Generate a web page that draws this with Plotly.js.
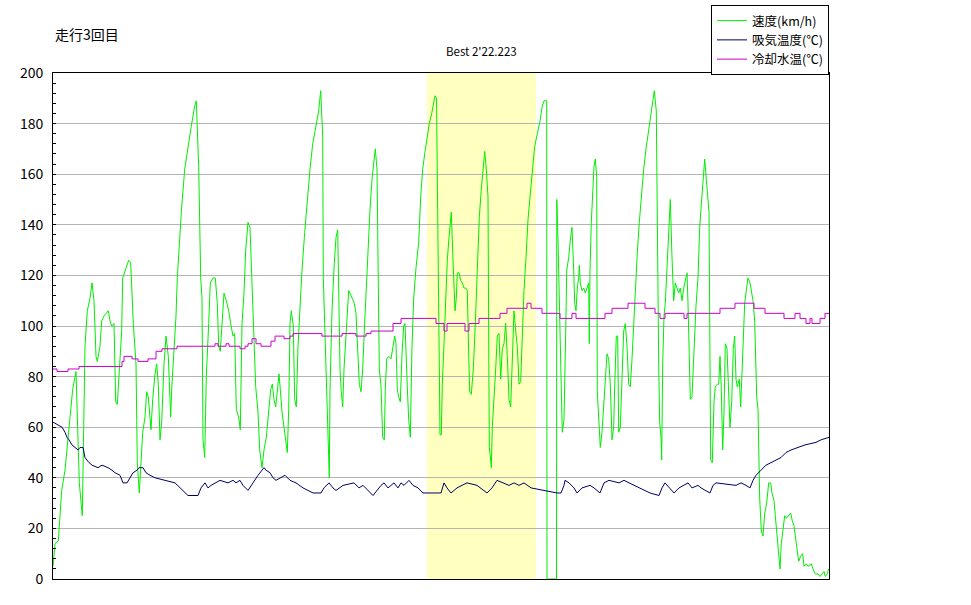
<!DOCTYPE html>
<html>
<head>
<meta charset="utf-8">
<script src="https://cdn.plot.ly/plotly-3.0.1.min.js"></script>
<style>html,body{margin:0;padding:0;background:#fff;}#chart{width:971px;height:605px;}</style>
</head>
<body>
<div id="chart"></div>
<script>
// ---- data (sample index along the run) ----
const speedT = [0,2,5.3,7,8.7,12,15.3,17,19.7,23,26.3,29.3,30,32,34.3,37,39,41,43,44.3,47,48.7,51,55.3,57,58.7,61,62.7,64.3,66,68.7,69.7,73,75.7,77.7,80.3,83,84.3,86.3,88,89.7,92,93.7,95.3,97,98,99.7,102,103.7,105.3,107,108.7,111,113,115.3,117.7,118.7,121,123,124.3,126.5,128.5,131.7,135,138.3,141.7,143.3,145.7,147.7,149,150,151.7,153.3,155.7,157.3,160,162.3,164.3,165.7,167.3,169.3,171,173.3,175.7,177.7,180,181.7,183.3,185.7,187.3,189,191,192.7,195,197,199,201,202.7,205,206.7,209,211,213.3,215.7,217.7,219.3,221,222.7,224.3,226,227.3,229,231,232.3,234.3,235.7,237,238.3,240.3,241.7,243.3,245,247,249,251.7,254.3,257,259.7,263,265.7,267.7,269.7,270.3,272,273,274.3,275.7,276.3,277,279,281.3,283,284.7,285.7,287,288.3,289.7,291,292.3,293.7,295.7,297,299,301.3,303,304.7,306.3,308,309.7,311.3,313,315,317,319,320.7,322.3,324,325,326.3,328,329.7,331.3,332.3,333.7,335.7,338,339.7,341.7,343,344.3,345.7,347.3,349,350.7,352,353,354.3,355.7,357.3,359,360.7,363,365.7,367.7,369.7,371.7,374,376.3,378.7,380.7,382,383.5,384.3,385,386,387,388.3,389.3,391,392.7,394.3,396,398.3,400,401,402,403.3,404.3,406,407.7,409.3,411,412.7,414.3,415.7,416.7,418.3,420.3,422.3,424.3,426.3,428.3,430.3,431.7,433.3,435,435.7,436.3,437.7,438.3,439.3,441,442.7,444.3,446,447.7,449.3,451,452.7,454.3,456,457.7,459.3,461,462.7,464.3,466,467.7,469.3,471,473,475,477,479.3,481.7,484.3,487,489.3,491,493.7,494,503.5,503.8,505,506,507,508.3,509.3,511,511.7,513,513.7,515.7,517.3,519,520.7,521.7,523,524.3,525.7,526.3,527.3,529,530.7,532.3,534,535.7,536.3,537,538.3,539.7,541,542.3,543.7,544.3,545.7,547.3,549,550.7,552.3,554,555.7,557.3,559,560.7,561.7,563.3,564.7,565.7,567.3,569,570.7,572.3,574,575.7,577.3,579,580.7,582.3,584.3,586.3,588.3,590.7,593,595,597.3,599,601.3,603.3,604,605,605.7,606.7,608,608.7,609.7,611,612.3,614,615.7,617.3,619,620.7,622.3,624,625.7,627.3,629,630.7,632.3,634,635,636.3,637.3,639,641,643,645,646.7,648.3,650,651.7,653.3,655,656,657,657.7,659.3,661,662.3,664.3,665.7,667,668.3,669.7,671,672.3,674,675.7,677,678.7,680.3,681.7,683,684.3,686.3,687.7,689,690,691.7,693.3,695,697,698.3,700,701.7,702.3,703.7,705,705.7,706.7,708.3,710,711.7,713.7,715.7,717.7,719,721,722.3,724,725.7,727,728.3,730,731.7,733.3,735.7,737.7,739.3,741,742.3,744.3,745.7,747.7,749.7,751,753.3,755,758.3,760,762.3,765,767,769,771,772.3,774.3,775.7];
const speedKmh = [5,14,15,26,35,43,56,62,75,82,38,25,44,92,106,111,117,110,88,86,92,102,104,106,102,100,101,70,69,81,98,119,123,126,125,101,85,46,34,44,58,64,74,72,64,59,71,81,85,77,55,62,85,96,88,64,75,89,104,119,135,146,162,171,179,187,189,163,119,111,55,48,80,101,117,119,119,109,92,90,101,113,110,106,101,96,97,67,64,59,101,113,130,141,139,114,96,76,66,51,44,51,56,67,75,77,71,68,75,81,75,66,60,55,50,67,101,106,100,71,68,92,109,122,137,151,162,172,180,185,193,175,119,96,83,59,48,40,75,106,125,135,138,119,83,74,68,83,92,100,114,113,111,109,105,92,77,74,83,98,114,133,146,158,166,170,162,122,83,76,56,55,75,87,88,87,91,96,93,75,72,70,89,100,101,88,76,63,56,92,111,123,133,151,162,168,174,180,184,189,191,190,154,117,92,57,57,77,93,111,126,135,145,126,114,106,111,121,121,118,117,115,115,114,89,74,73,83,101,125,143,154,164,169,162,151,96,52,47,44,60,70,83,96,97,79,91,93,101,88,71,68,89,106,98,92,77,78,96,114,127,142,151,162,171,176,181,187,189,189,0,0,150,134,110,98,75,58,63,85,104,122,127,134,139,122,109,106,115,119,124,117,114,115,113,115,117,93,122,141,155,163,166,159,74,62,52,58,70,80,89,87,77,55,60,76,96,96,58,60,81,98,101,92,77,76,87,101,115,129,141,151,162,170,176,183,188,193,185,147,119,85,62,56,47,85,104,109,123,139,150,127,110,117,115,113,115,110,115,118,121,109,89,71,72,94,108,119,139,148,159,166,158,147,145,85,47,46,70,76,77,77,88,75,51,66,93,91,72,60,70,91,96,79,76,79,68,83,98,109,114,119,117,114,110,102,88,72,67,43,32,19,17,26,30,38,38,34,31,25,17,8,4,14,19,25,24,25,26,23,21,17,11,7,9,10,5,6,5,6,4,2,2,1,2,3,1,2,4];

const intakeT = [0,4,9,12,14,16,19,22,25,27,30,32,34,36,39,45,49,55,59,62,67,70,74,77,80,84,86,90,93,97,102,122,127,130,135,145,148,152,155,158,162,167,175,180,183,187,190,195,200,205,211,213,217,220,223,227,232,237,243,250,255,260,268,271,276,280,283,290,301,306,310,315,320,328,331,335,338,341,345,348,351,356,360,365,370,388,391,394,398,404,409,414,424,431,434,439,444,456,461,466,471,478,504,508,511,512,516,521,524,529,537,541,547,551,556,566,571,576,581,586,597,606,609,612,617,621,626,631,635,639,645,648,657,660,663,683,688,693,697,700,703,708,713,718,723,728,733,738,745,752,763,768,776];
const intakeC = [62,61,60,58,56,55,53,52,51,52,52,48,47,46,45,44,45,44,43,42,41,38,38,40,42,43,44,44,42,41,40,38,36,35,33,33,36,38,36,37,38,39,38,39,38,39,37,35,38,41,44,43,42,40,39,40,41,39,38,36,35,34,34,36,38,36,35,37,38,36,37,35,33,37,38,36,37,38,36,38,37,39,37,36,34,34,38,36,34,36,37,38,37,35,34,36,39,37,38,37,38,36,34,34,37,39,38,36,34,36,37,36,34,38,39,38,39,38,37,36,34,33,36,38,36,34,36,37,38,36,37,36,34,37,38,37,38,37,36,39,41,43,45,46,47,48,50,51,52,53,54,55,56,57];

const coolantT = [0,4,15,26,69,71,79,85,95,103,109,124,162,165,173,176,187,192,195,199,203,208,218,222,231,237,240,269,289,303,313,318,340,348,383,391,394,412,416,426,447,454,474,478,489,507,519,523,552,559,575,592,602,607,612,631,634,667,682,701,712,731,742,747,753,757,759,767,772,776];
const coolantC = [83,82,83,84,86,88,87,86,87,90,91,92,93,92,93,92,91,92,93,95,93,92,94,96,95,96,97,96,97,96,97,98,101,103,101,98,101,98,101,103,105,107,109,107,105,103,105,103,105,107,109,107,105,103,105,103,105,107,109,107,105,103,105,103,101,103,101,103,105,105];

const bestLapStart = 374;
const bestLapEnd = 483;
const bestLapLabel = "Best 2'22.223";
const chartTitle = "走行3回目";
const seriesNames = ["速度(km/h)", "吸気温度(℃)", "冷却水温(℃)"];
const yTicks = [0,20,40,60,80,100,120,140,160,180,200];

const FONT = '"Noto Sans CJK JP", "Liberation Sans", sans-serif';

const traces = [
  {x: speedT, y: speedKmh, name: seriesNames[0], type: 'scatter', mode: 'lines',
   line: {color: '#00ee00', width: 1}},
  {x: intakeT, y: intakeC, name: seriesNames[1], type: 'scatter', mode: 'lines',
   line: {color: '#000066', width: 1}},
  {x: coolantT, y: coolantC, name: seriesNames[2], type: 'scatter', mode: 'lines',
   line: {color: '#cc00cc', width: 1, shape: 'hv'}}
];

const layout = {
  width: 971, height: 605,
  margin: {l: 53, r: 142, t: 73, b: 26, pad: 0, autoexpand: false},
  paper_bgcolor: '#ffffff', plot_bgcolor: '#ffffff',
  font: {family: FONT, size: 13, color: '#000'},
  title: {text: chartTitle, x: 55/971, xref: 'container', xanchor: 'left',
          y: 1 - 35/605, yref: 'container', yanchor: 'middle', automargin: false,
          font: {family: FONT, size: 14, color: '#000'}},
  showlegend: true,
  legend: {x: 1, xanchor: 'right', y: 1 + 68/506, yanchor: 'top',
           bgcolor: '#fff', bordercolor: '#000', borderwidth: 1,
           font: {family: FONT, size: 12.5, color: '#000'},
           tracegroupgap: 0, itemwidth: 30},
  xaxis: {range: [0, 776], showgrid: false, zeroline: false, showticklabels: false,
          ticks: '', showline: true, linecolor: '#000', linewidth: 1, mirror: true,
          fixedrange: true, automargin: false},
  yaxis: {range: [0, 200], tickvals: yTicks, ticktext: yTicks.map(String),
          showgrid: true, gridcolor: '#b4b4b4', gridwidth: 1, zeroline: false,
          ticks: 'inside', ticklen: 3, tickcolor: '#000',
          minor: {dtick: 4, ticks: 'inside', ticklen: 3, tickcolor: '#000', showgrid: false},
          showline: true, linecolor: '#000', linewidth: 1, mirror: true,
          tickfont: {family: FONT, size: 14, color: '#000'}, ticklabelstandoff: 6,
          fixedrange: true, automargin: false},
  shapes: [{type: 'rect', xref: 'x', yref: 'paper', x0: bestLapStart, x1: bestLapEnd,
            y0: 0, y1: 1, fillcolor: '#ffffc0', line: {width: 0}, layer: 'below'}],
  annotations: [{text: bestLapLabel, xref: 'x', yref: 'paper',
                 x: (bestLapStart + bestLapEnd) / 2, y: 1, yanchor: 'bottom', yshift: 12,
                 showarrow: false, font: {family: FONT, size: 11.5, color: '#000'}}]
};

Plotly.newPlot('chart', traces, layout, {staticPlot: true, displayModeBar: false});
</script>
</body>
</html>
